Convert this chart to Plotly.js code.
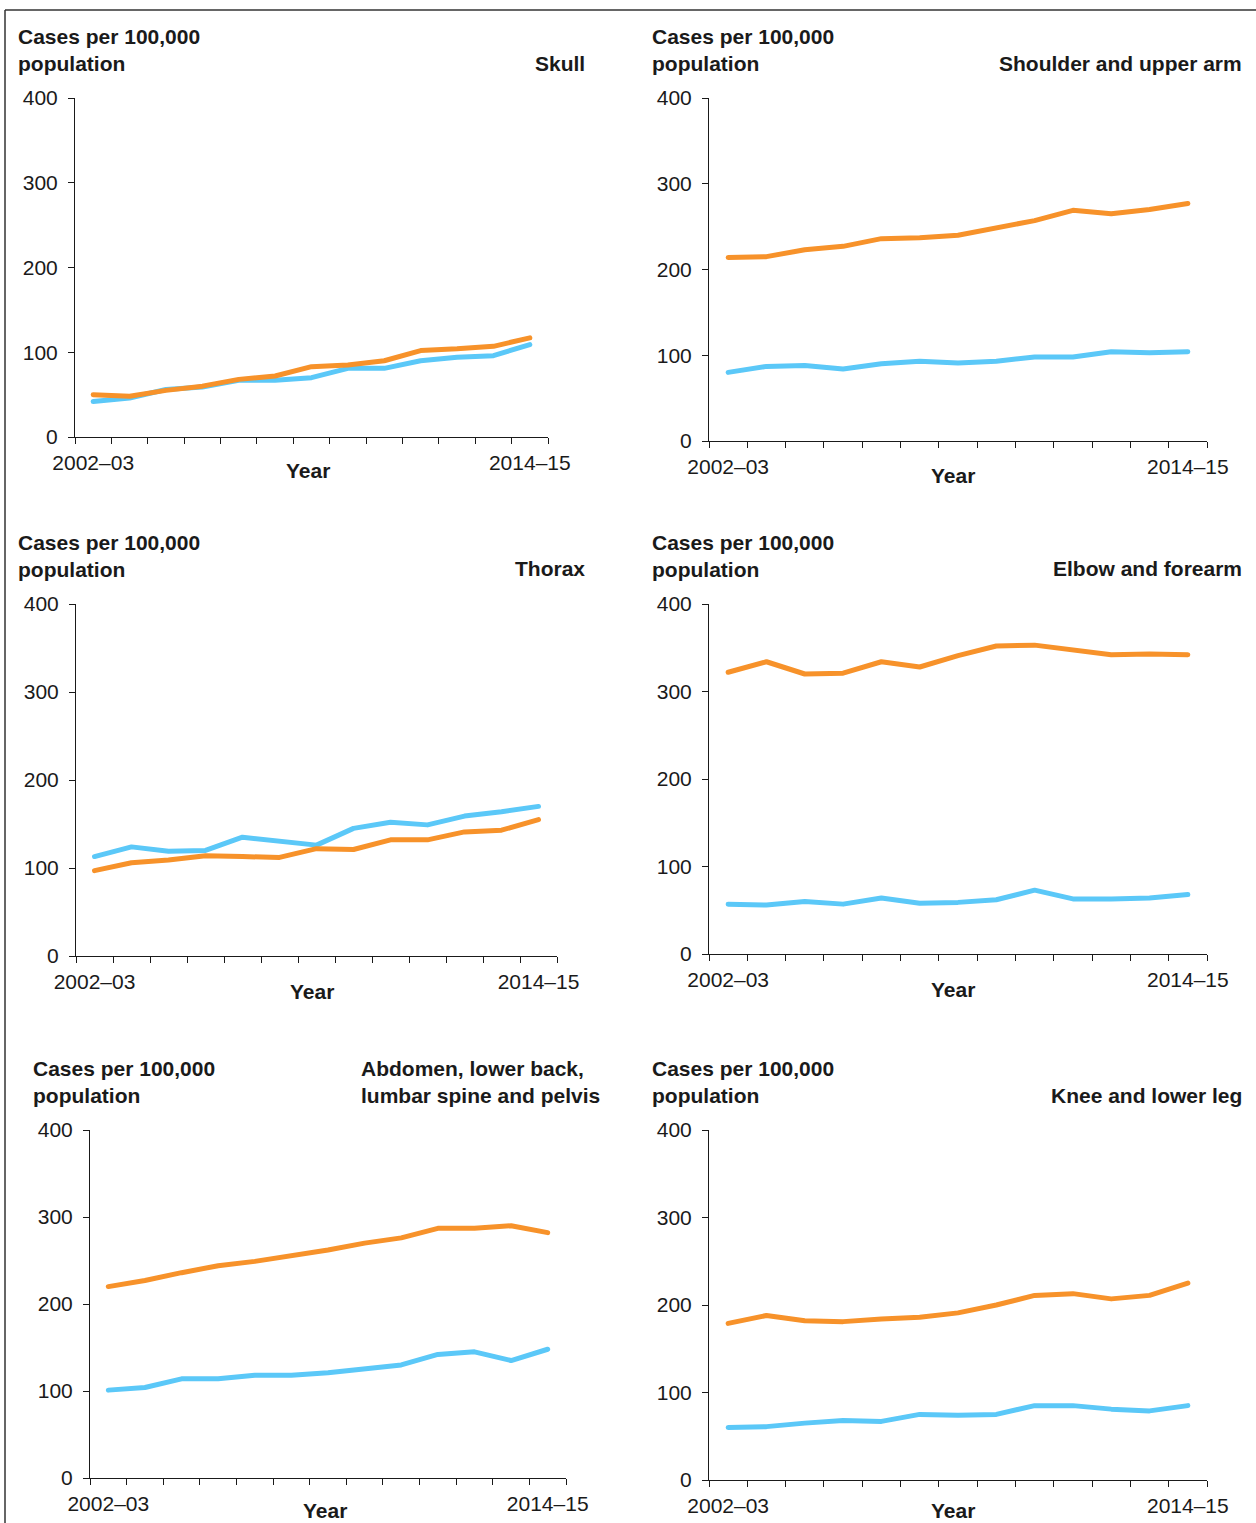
<!DOCTYPE html>
<html>
<head>
<meta charset="utf-8">
<script src="https://cdn.plot.ly/plotly-3.0.1.min.js"></script>
<style>
html,body{margin:0;padding:0;background:#fff;}
#chart .scatterlayer path.js-line{stroke-linecap:round;stroke-linejoin:round;}
</style>
</head>
<body>
<div id="chart" style="width:1256px;height:1523px;"></div>
<script>
// ---- data ----
const years = ["2002–03","2003–04","2004–05","2005–06","2006–07","2007–08","2008–09",
               "2009–10","2010–11","2011–12","2012–13","2013–14","2014–15"];
const yTicks = [0, 100, 200, 300, 400];

const skullOrange    = [50, 48, 55, 60, 68, 72, 83, 85, 90, 102, 104, 107, 117];
const skullBlue      = [42, 46, 56, 59, 67, 67, 70, 81, 81, 90, 94, 96, 109];
const shoulderOrange = [214, 215, 223, 227, 236, 237, 240, 248, 257, 269, 265, 270, 277];
const shoulderBlue   = [80, 87, 88, 84, 90, 93, 91, 93, 98, 98, 104, 103, 104];
const thoraxOrange   = [97, 106, 109, 114, 113, 112, 122, 121, 132, 132, 141, 143, 155];
const thoraxBlue     = [113, 124, 119, 120, 135, 131, 126, 145, 152, 149, 159, 164, 170];
const elbowOrange    = [322, 334, 320, 321, 334, 328, 341, 352, 353, 347, 342, 343, 342];
const elbowBlue      = [57, 56, 60, 57, 64, 58, 59, 62, 73, 63, 63, 64, 68];
const abdomenOrange  = [220, 227, 236, 244, 249, 255, 262, 270, 276, 287, 287, 290, 282];
const abdomenBlue    = [101, 104, 114, 114, 118, 118, 121, 126, 130, 142, 145, 135, 148];
const kneeOrange     = [179, 188, 182, 181, 184, 186, 191, 200, 211, 213, 207, 211, 225];
const kneeBlue       = [60, 61, 65, 68, 67, 75, 74, 75, 85, 85, 81, 79, 85];

const panelTitles = ["Skull", "Shoulder and upper arm", "Thorax", "Elbow and forearm",
                     "Abdomen, lower back,<br>lumbar spine and pelvis", "Knee and lower leg"];
const yLabel = "Cases per 100,000<br>population";
const xLabel = "Year";

// ---- layout (pixel geometry) ----
const W = 1256, H = 1523;
const px = v => v / W;
const py = v => 1 - v / H;
const FONT = "Liberation Sans, Arial, Helvetica, sans-serif";
const INK = "#1a1a1a";
const ORANGE = "#F7922A";
const BLUE = "#5BC8F8";

const data = [
  [skullOrange, skullBlue], [shoulderOrange, shoulderBlue],
  [thoraxOrange, thoraxBlue], [elbowOrange, elbowBlue],
  [abdomenOrange, abdomenBlue], [kneeOrange, kneeBlue]
];
// plot boxes: [left, right, top, bottom] in px
const boxes = [
  [75, 548, 98, 437], [709, 1207, 98, 441],
  [76, 557, 604, 956], [709, 1207, 604, 954],
  [90, 566, 1130, 1478], [709, 1207, 1130, 1480]
];
// y-label annotation anchor [left x, middle y]
const yLabelPos = [[16, 50], [650, 50], [16, 556], [650, 556], [31, 1082], [650, 1082]];
// panel title anchor [x, middle y, xanchor]
const titlePos = [[587, 63, "right"], [1244, 63, "right"], [587, 568, "right"],
                  [1244, 568, "right"], [359, 1082, "left"], [1244, 1095, "right"]];
const yearPos = [[308, 470], [953, 475], [312, 992], [953, 989], [325, 1510], [953, 1510]];

const xIdx = years.map((_, i) => i);
const traces = [];
const layout = {
  width: W, height: H,
  margin: {l: 0, r: 0, t: 0, b: 0},
  paper_bgcolor: "#fff", plot_bgcolor: "rgba(0,0,0,0)",
  showlegend: false,
  font: {family: FONT, size: 21, color: INK},
  annotations: [],
  shapes: [
    {type: "line", xref: "paper", yref: "paper", x0: px(5), x1: 1, y0: py(10), y1: py(10),
     line: {color: "#333", width: 1.5}},
    {type: "line", xref: "paper", yref: "paper", x0: px(5), x1: px(5), y0: py(10), y1: 0,
     line: {color: "#333", width: 1.5}}
  ]
};

data.forEach((pair, k) => {
  const n = k + 1;
  const xa = n === 1 ? "x" : "x" + n;
  const ya = n === 1 ? "y" : "y" + n;
  const names = ["Orange series", "Blue series"];
  const cols = [ORANGE, BLUE];
  [1, 0].forEach(j => {
    traces.push({
      type: "scatter", mode: "lines",
      x: xIdx, y: pair[j], text: years,
      hovertemplate: "%{text}: %{y}<extra></extra>",
      name: names[j], xaxis: xa, yaxis: ya,
      line: {color: cols[j], width: 5}
    });
  });
  const b = boxes[k];
  layout["xaxis" + (n === 1 ? "" : n)] = {
    domain: [px(b[0]), px(b[1])], anchor: ya,
    range: [-0.5, years.length - 0.5],
    tickmode: "array", tickvals: [0, years.length - 1],
    ticktext: [years[0], years[years.length - 1]],
    ticks: "outside", ticklen: 7, tickcolor: "rgba(0,0,0,0)",
    minor: {ticks: "outside", tickmode: "linear", tick0: -0.5, dtick: 1,
            ticklen: 6, tickwidth: 1, tickcolor: INK, showgrid: false},
    showline: true, linecolor: INK, linewidth: 1,
    showgrid: false, zeroline: false, fixedrange: true,
    tickfont: {family: FONT, size: 21, color: INK}
  };
  layout["yaxis" + (n === 1 ? "" : n)] = {
    domain: [py(b[3]), py(b[2])], anchor: xa,
    range: [0, 400], tickmode: "array", tickvals: yTicks,
    ticks: "outside", ticklen: 6, tickwidth: 1, tickcolor: INK,
    showline: true, linecolor: INK, linewidth: 1,
    showgrid: false, zeroline: false, fixedrange: true,
    ticklabelstandoff: 6,
    tickfont: {family: FONT, size: 21, color: INK}
  };
  layout.annotations.push({
    xref: "paper", yref: "paper", x: px(yLabelPos[k][0]), y: py(yLabelPos[k][1]),
    xanchor: "left", yanchor: "middle", align: "left", showarrow: false,
    text: "<b>" + yLabel + "</b>", font: {family: FONT, size: 21, color: INK}
  });
  layout.annotations.push({
    xref: "paper", yref: "paper", x: px(titlePos[k][0]), y: py(titlePos[k][1]),
    xanchor: titlePos[k][2], yanchor: "middle", align: titlePos[k][2], showarrow: false,
    text: "<b>" + panelTitles[k] + "</b>", font: {family: FONT, size: 21, color: INK}
  });
  layout.annotations.push({
    xref: "paper", yref: "paper", x: px(yearPos[k][0]), y: py(yearPos[k][1]),
    xanchor: "center", yanchor: "middle", showarrow: false,
    text: "<b>" + xLabel + "</b>", font: {family: FONT, size: 21, color: INK}
  });
});

Plotly.newPlot("chart", traces, layout, {displayModeBar: false, staticPlot: true});
</script>
</body>
</html>
